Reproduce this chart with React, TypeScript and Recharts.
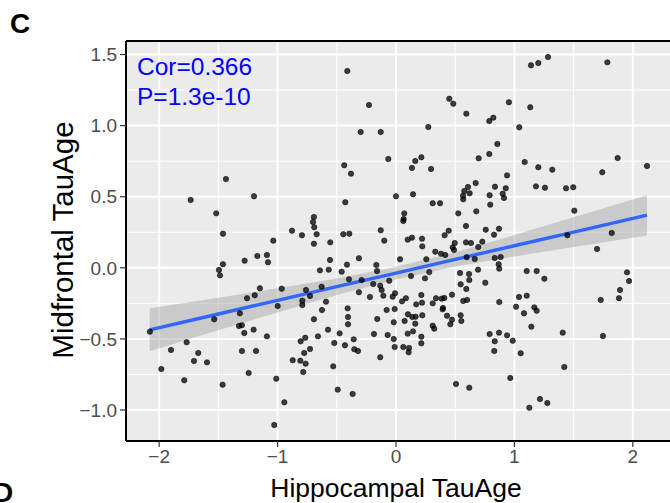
import React from 'react';
import {
  ComposedChart, XAxis, YAxis, Scatter, Area, Line, ReferenceLine, CartesianGrid,
} from 'recharts';

// Hippocampal TauAge (x) and Midfrontal TauAge (y) for each sample
const hippocampal = [
  -1.436, -0.411, -0.228, -0.298, -0.129, -0.065, -0.437, -0.380, 1.140, 1.202,
  0.450, 0.484, 0.594, 0.822, 0.788, 0.954, 1.134, 0.273, 1.041, 0.856,
  0.788, 0.698, 0.214, 0.163, 0.135, 0.296, 0.938, 1.087, 1.202, 1.284,
  1.785, 1.320, 1.742, 1.872, 2.120, -1.734, -1.199, -1.518, -1.461, -1.278,
  -1.171, -1.461, -1.495, -1.486, -1.149, -1.193, -1.258, 0.000, -0.428, -0.693,
  -0.701, -0.690, -0.878, -0.794, -0.670, -1.036, -0.693, -0.555, -0.445, -0.394,
  -0.129, -0.099, -1.090, -1.081, -0.557, -0.313, -0.414, -0.642, -0.568, -0.459,
  -0.166, -0.160, 0.034, -0.397, -0.290, -0.057, -0.133, -0.192, -0.965, -0.760,
  -0.628, -0.726, -0.791, -0.791, -0.313, -0.220, -0.121, -0.107, -0.028, -0.008,
  -0.591, -0.408, -0.625, -0.999, -0.079, 0.673, 0.608, 0.577, 0.566, 0.622,
  0.568, 0.836, 0.927, 0.901, 0.912, 0.791, 0.796, 1.182, 0.144, 0.310,
  0.372, 0.526, 0.678, 0.070, 0.065, 0.062, 0.591, 0.758, 0.870, 0.828,
  0.445, 0.411, 0.135, 0.099, 0.220, 0.222, 0.496, 0.479, 0.490, 0.591,
  0.633, 0.729, 0.695, 0.332, 0.380, 0.416, 0.256, 0.597, 0.665, 0.834,
  0.884, 0.867, 0.872, 0.693, 0.281, 0.127, 0.245, 0.541, 0.617, 0.619,
  0.754, 1.104, 1.188, 0.546, 0.594, 0.473, 0.408, 0.386, 0.338, 0.214,
  0.084, 0.051, 0.171, 0.220, 0.310, 0.397, 0.568, 0.600, 0.872, 1.014,
  1.039, 1.104, 1.258, 1.436, 1.497, 1.506, 1.447, 1.822, 1.698, 1.253,
  1.951, 1.968, 1.892, 1.883, 1.729, 1.168, -2.078, -1.535, -1.318, -1.326,
  -1.301, -1.281, -1.202, -1.768, -1.900, -1.670, -1.706, -1.596, -1.301, -1.182,
  -1.982, -1.244, -1.788, -1.464, -0.693, -0.405, -0.405, -0.158, -0.011, -0.019,
  -0.574, -0.476, -0.659, -0.766, -0.805, -1.090, -0.726, -0.775, -0.521, -0.431,
  -0.357, -0.352, -0.321, -0.186, -0.070, -0.019, -0.011, -0.133, -0.872, -0.808,
  -0.763, -0.783, -0.530, -1.011, -0.492, -0.366, -0.943, -1.028, 1.081, 1.188,
  1.143, 0.394, 0.431, 0.473, 0.459, 0.546, 0.552, 0.310, 0.323, 0.101,
  0.166, 0.073, 0.163, 0.222, 0.138, 0.144, 0.099, 0.214, 0.214, 0.062,
  0.110, 0.107, 0.791, 0.870, 0.938, 0.986, 0.834, 0.830, 1.053, 0.507,
  0.619, 0.965, 1.126, 1.216, 1.408, 1.748, 1.421, 1.278,
];
const midfrontal = [
  0.624, 1.384, 1.145, 0.955, 0.955, 0.765, 0.721, 0.662, 1.424, 1.440,
  1.189, 1.154, 1.084, 1.056, 1.032, 1.164, 1.129, 0.990, 0.988, 0.871,
  0.800, 0.770, 0.777, 0.751, 0.702, 0.695, 0.650, 0.744, 0.707, 1.482,
  1.445, 0.690, 0.672, 0.772, 0.716, 0.477, 0.503, 0.383, 0.240, 0.050,
  0.083, 0.025, -0.015, -0.053, -0.144, -0.193, -0.214, 0.503, 0.461, 0.357,
  0.322, 0.285, 0.261, 0.229, 0.236, 0.191, 0.169, 0.179, 0.236, 0.240,
  0.264, 0.191, 0.090, 0.039, 0.055, 0.067, 0.022, -0.018, -0.013, -0.027,
  0.020, -0.023, 0.060, -0.081, -0.086, -0.091, -0.126, -0.114, -0.147, -0.156,
  -0.133, -0.198, -0.231, -0.262, -0.172, -0.205, -0.156, -0.196, -0.203, -0.179,
  -0.238, -0.285, -0.297, -0.269, -0.297, 0.596, 0.568, 0.540, 0.507, 0.524,
  0.482, 0.570, 0.559, 0.521, 0.491, 0.510, 0.444, 0.573, 0.517, 0.454,
  0.454, 0.383, 0.397, 0.383, 0.343, 0.329, 0.294, 0.268, 0.275, 0.233,
  0.261, 0.229, 0.212, 0.198, 0.205, 0.151, 0.174, 0.144, 0.125, 0.179,
  0.174, 0.184, 0.146, 0.113, 0.099, 0.090, 0.060, 0.074, 0.062, 0.069,
  0.076, 0.025, -0.006, -0.013, -0.030, -0.058, -0.074, -0.037, -0.044, -0.086,
  -0.105, -0.023, -0.023, -0.116, -0.149, -0.189, -0.212, -0.217, -0.214, -0.191,
  -0.214, -0.236, -0.257, -0.245, -0.250, -0.283, -0.233, -0.226, -0.241, -0.274,
  -0.205, -0.196, 0.563, 0.559, 0.566, 0.402, 0.229, 0.245, 0.132, -0.077,
  -0.032, -0.093, -0.156, -0.214, -0.226, -0.278, -0.449, -0.362, -0.320, -0.409,
  -0.404, -0.459, -0.435, -0.524, -0.578, -0.599, -0.655, -0.665, -0.585, -0.585,
  -0.712, -0.740, -0.791, -0.822, -0.362, -0.346, -0.397, -0.360, -0.290, -0.383,
  -0.435, -0.461, -0.482, -0.492, -0.517, -0.482, -0.571, -0.599, -0.529, -0.545,
  -0.503, -0.573, -0.585, -0.466, -0.473, -0.501, -0.557, -0.629, -0.650, -0.653,
  -0.674, -0.733, -0.693, -0.780, -0.857, -0.887, -0.946, -1.105, -0.320, -0.302,
  -0.414, -0.292, -0.337, -0.365, -0.397, -0.334, -0.374, -0.407, -0.428, -0.327,
  -0.344, -0.374, -0.393, -0.334, -0.346, -0.447, -0.463, -0.485, -0.531, -0.557,
  -0.564, -0.594, -0.466, -0.456, -0.475, -0.513, -0.517, -0.585, -0.601, -0.817,
  -0.843, -0.775, -0.984, -0.923, -0.456, -0.480, -0.698, -0.951,
];

// Linear fit and its 95% confidence band, read along x
const fitX = [-2.08, -1.5, -1, -0.5, 0, 0.5, 1, 1.5, 2.12];
const fitY = [-0.436, -0.325, -0.229, -0.133, -0.037, 0.059, 0.155, 0.251, 0.370];
const bandLow = [-0.587, -0.44, -0.314, -0.191, -0.082, 0.009, 0.08, 0.146, 0.228];
const bandHigh = [-0.285, -0.21, -0.144, -0.075, 0.008, 0.109, 0.23, 0.356, 0.510];

const xTicks = [-2, -1, 0, 1, 2];
const yTicks = [-1, -0.5, 0, 0.5, 1, 1.5];
const xMinor = [-1.5, -0.5, 0.5, 1.5];
const yMinor = [-0.75, -0.25, 0.25, 0.75, 1.25];

const corText = 'Cor=0.366';
const pText = 'P=1.3e-10';

const points = hippocampal.map((x, i) => ({ x, y: midfrontal[i] }));
const fitData = fitX.map((x, i) => ({ x, fit: fitY[i], band: [bandLow[i], bandHigh[i]] }));

const minus = (s: string) => s.replace('-', '\u2212');

const Dot = (props: any) => (
  <circle cx={props.cx} cy={props.cy} r={2.7} fill="#000" fillOpacity={0.75}
    stroke="#000" strokeOpacity={0.85} strokeWidth={0.6} />
);

const FONT = '"Liberation Sans", Arial, Helvetica, sans-serif';

export default function App() {
  return (
    <div style={{ position: 'absolute', left: 0, top: 0, width: 670, height: 503, fontFamily: FONT, background: '#fff' }}>
      <ComposedChart width={670} height={503} data={fitData}
        margin={{ top: 41, right: 0, bottom: 32, left: 66 }}>
        <CartesianGrid fill="#EBEBEB" stroke="#ffffff" strokeWidth={1}
          horizontalValues={yMinor} verticalValues={xMinor} />
        <CartesianGrid stroke="#ffffff" strokeWidth={2}
          horizontalValues={yTicks} verticalValues={xTicks} />
        <XAxis type="number" dataKey="x" domain={[-2.28, 2.314]} ticks={xTicks}
          allowDataOverflow height={30}
          axisLine={{ stroke: '#000', strokeWidth: 2 }}
          tickLine={{ stroke: '#333', strokeWidth: 1.2 }} tickSize={6} tickMargin={3}
          tick={{ fill: '#4D4D4D', fontSize: 19 }}
          tickFormatter={(v: number) => minus(String(v))} />
        <YAxis type="number" domain={[-1.218, 1.595]} ticks={yTicks}
          allowDataOverflow width={60}
          axisLine={{ stroke: '#000', strokeWidth: 2 }}
          tickLine={{ stroke: '#333', strokeWidth: 1.2 }} tickSize={6} tickMargin={3}
          tick={{ fill: '#4D4D4D', fontSize: 19 }}
          tickFormatter={(v: number) => minus(v.toFixed(1))} />
        <ReferenceLine y={1.595} stroke="#000" strokeWidth={2} />
        <Scatter data={points} dataKey="y" shape={Dot} isAnimationActive={false} />
        <Area dataKey="band" type="linear" fill="#999999" fillOpacity={0.4}
          stroke="none" isAnimationActive={false} />
        <Line dataKey="fit" type="linear" stroke="#3366FF" strokeWidth={3.4}
          dot={false} isAnimationActive={false} />
      </ComposedChart>
      <svg width={670} height={503} style={{ position: 'absolute', left: 0, top: 0, pointerEvents: 'none', fontFamily: FONT }}>
        <text x={10} y={33} fontSize={28} fontWeight="bold" fill="#000">C</text>
        <text x={-7} y={502} fontSize={28} fontWeight="bold" fill="#000">D</text>
        <text x={137} y={75} fontSize={24.5} fill="#0000FF">{corText}</text>
        <text x={137} y={105} fontSize={24.5} fill="#0000FF">{pText}</text>
        <text x={396} y={497} fontSize={26.5} textAnchor="middle" fill="#000">Hippocampal TauAge</text>
        <text x={73} y={240} fontSize={29.5} textAnchor="middle" fill="#000"
          transform="rotate(-90, 73, 240)">Midfrontal TauAge</text>
      </svg>
    </div>
  );
}
